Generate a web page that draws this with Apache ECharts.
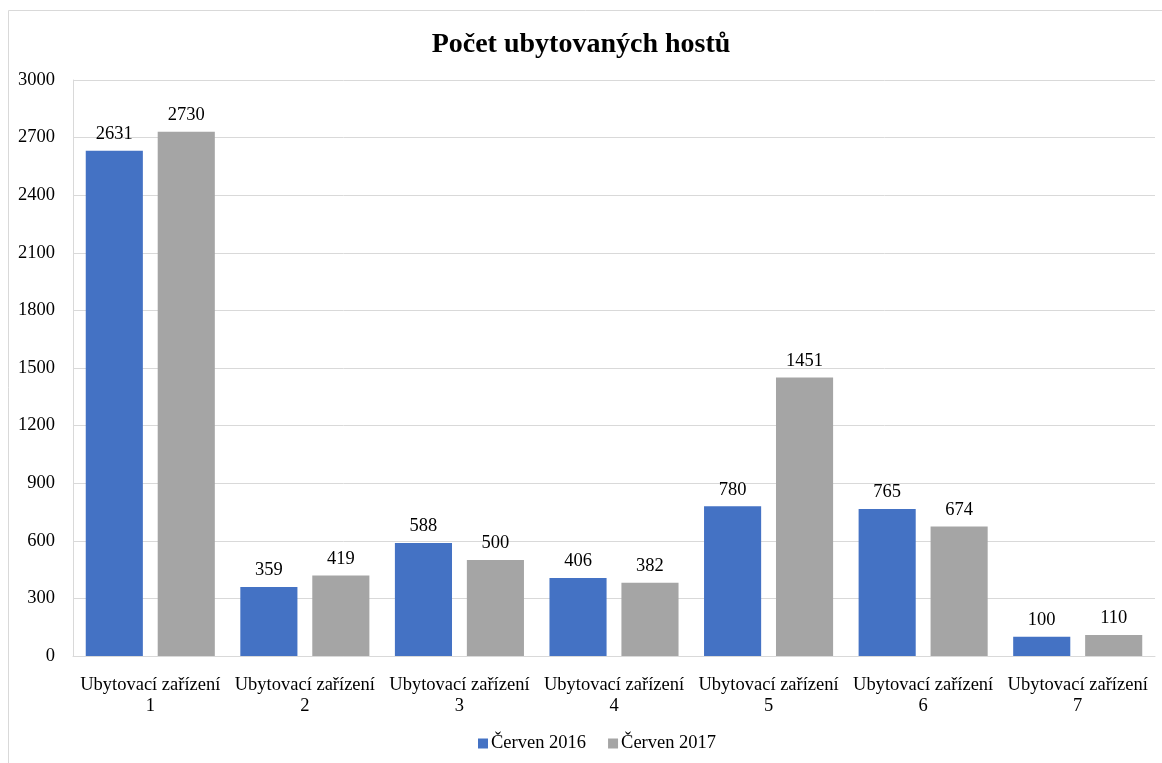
<!DOCTYPE html>
<html><head><meta charset="utf-8">
<script src="https://cdn.jsdelivr.net/npm/echarts@6/dist/echarts.min.js"></script>
<style>html,body{margin:0;padding:0;background:#fff}#c{width:1162px;height:763px}</style>
</head><body><div id="c"></div>
<script>
const categories = ["Ubytovací zařízení 1","Ubytovací zařízení 2","Ubytovací zařízení 3","Ubytovací zařízení 4","Ubytovací zařízení 5","Ubytovací zařízení 6","Ubytovací zařízení 7"];
const seriesNames = ["Červen 2016","Červen 2017"];
const values2016 = [2631, 359, 588, 406, 780, 765, 100];
const values2017 = [2730, 419, 500, 382, 1451, 674, 110];
const font = "'Liberation Serif','Times New Roman',serif";
const chart = echarts.init(document.getElementById('c'));
const lbl = {show:true, position:'top', color:'#000', fontFamily:font, fontSize:18.5, distance:7};
chart.setOption({
  animation:false,
  graphic:[{type:'rect', shape:{x:8.5,y:10.5,width:1160,height:770}, style:{fill:null, stroke:'#d9d9d9', lineWidth:1}, silent:true}],
  title:{text:'Počet ubytovaných hostů', left:'center', top:26, textStyle:{fontFamily:font, fontSize:28, fontWeight:'bold', color:'#000'}},
  legend:{bottom:5, left:473, itemWidth:10, itemHeight:10, itemGap:22, icon:'rect', textStyle:{fontFamily:font, fontSize:18.5, color:'#000', padding:[0,0,0,-2]}, data:seriesNames},
  grid:{left:73, right:7, top:80, bottom:107, containLabel:false, outerBoundsMode:'none'},
  xAxis:{type:'category', data:categories,
    axisLine:{lineStyle:{color:'#d9d9d9'}}, axisTick:{show:false},
    axisLabel:{fontFamily:font, fontSize:18.5, color:'#000', margin:19, lineHeight:21, interval:0,
      formatter:v=>{const i=v.lastIndexOf(' ');return v.slice(0,i)+'\n'+v.slice(i+1);}}},
  yAxis:{type:'value', min:0, max:3000, interval:300,
    axisLine:{show:true, lineStyle:{color:'#d9d9d9'}},
    splitLine:{lineStyle:{color:'#d9d9d9'}},
    axisLabel:{fontFamily:font, fontSize:18.5, color:'#000', margin:18, formatter:v=>String(v)}},
  series:[
    {name:seriesNames[0], type:'bar', data:values2016, itemStyle:{color:'#4472c4'}, barGap:'26%', barCategoryGap:'16.5%', label:lbl},
    {name:seriesNames[1], type:'bar', data:values2017, itemStyle:{color:'#a5a5a5'}, label:lbl}
  ]
});
</script></body></html>
